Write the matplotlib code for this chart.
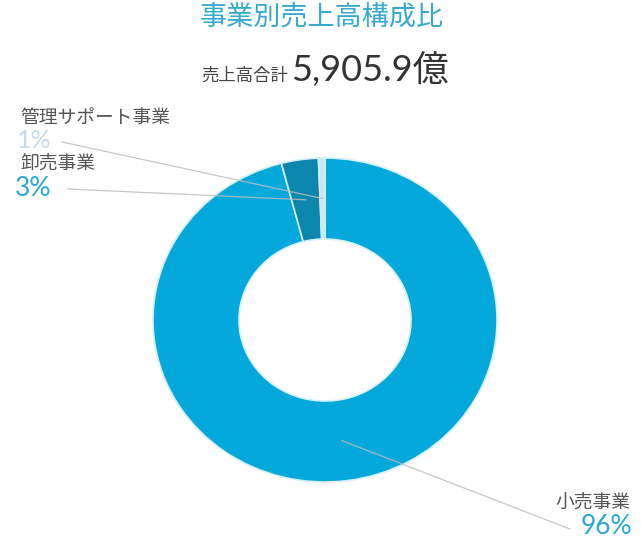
import matplotlib
matplotlib.use("Agg")
import matplotlib.pyplot as plt
import numpy as np

plt.rcParams['font.family'] = ['Noto Sans CJK JP', 'DejaVu Sans']

# data (億円)
segments = ['小売事業', '卸売事業', '管理サポート事業']
sales = [5665.0, 205.0, 36.0]
total_label = '5,905.9億'
colors = ['#04a8da', '#0b87ad', '#c9e6f2']
pct_colors = ['#2aa8d8', '#2aa8d8', '#c3dce8']

W, H = 641, 543
fig = plt.figure(figsize=(W / 100, H / 100), dpi=100)

# overlay axes in pixel units (y measured from top via H - y)
ax = fig.add_axes([0, 0, 1, 1])
ax.set_xlim(0, W)
ax.set_ylim(0, H)
ax.axis('off')

# donut axes (reference donut is slightly wider than tall)
left, top, pw, ph = 153, 158, 344, 324
axp = fig.add_axes([left / W, (H - top - ph) / H, pw / W, ph / H])
ring = 0.5
wedges, _ = axp.pie(sales, colors=colors, startangle=90, counterclock=False,
                    radius=1, wedgeprops=dict(width=ring, edgecolor='#d6eff8', linewidth=1.2))
axp.set_xlim(-1, 1)
axp.set_ylim(-1, 1)
axp.set_aspect('auto')
axp.axis('off')
axp.set_zorder(1)
ax.set_zorder(2)
ax.patch.set_visible(False)

pcts = [v / sum(sales) * 100 for v in sales]

# label positions (image px): name xy, pct xy, line start, alignment
layout = {
    '小売事業': dict(name=(630, 502), pct=(632, 527), start=(570, 529), ha='right'),
    '卸売事業': dict(name=(20, 163), pct=(15, 188), start=(68, 189), ha='left'),
    '管理サポート事業': dict(name=(20, 118), pct=(17, 140), start=(62, 142), ha='left'),
}

for w, seg, p, pc in zip(wedges, segments, pcts, pct_colors):
    lay = layout[seg]
    mid = np.deg2rad((w.theta1 + w.theta2) / 2)
    rm = 1 - ring / 2
    # wedge midpoint -> pixel coords of overlay axes
    px, py = axp.transData.transform((rm * np.cos(mid), rm * np.sin(mid)))
    sx, sy = lay['start']
    ax.plot([sx, px], [H - sy, py], color='#bdbdbd', lw=0.9, alpha=0.85)
    nx, ny = lay['name']
    ax.text(nx, H - ny, seg, ha=lay['ha'], va='center', fontsize=13.5, color='#555555')
    qx, qy = lay['pct']
    fs = 18 if p < 2 else 19
    ax.text(qx, H - qy, f'{p:.0f}%', ha=lay['ha'], va='center', fontsize=fs,
            color=pc, family=['Lato', 'Noto Sans CJK JP'])

ax.text(322, H - 17, '事業別売上高構成比', ha='center', va='center', fontsize=19.5, color='#35a9cf')
ax.text(288, H - 81, '売上高合計', ha='right', va='baseline', fontsize=12.5, color='#444444')
ax.text(291, H - 81, total_label, ha='left', va='baseline', fontsize=26, color='#333333',
        family=['Lato', 'Noto Sans CJK JP'])

fig.savefig('out.png', dpi=100)
